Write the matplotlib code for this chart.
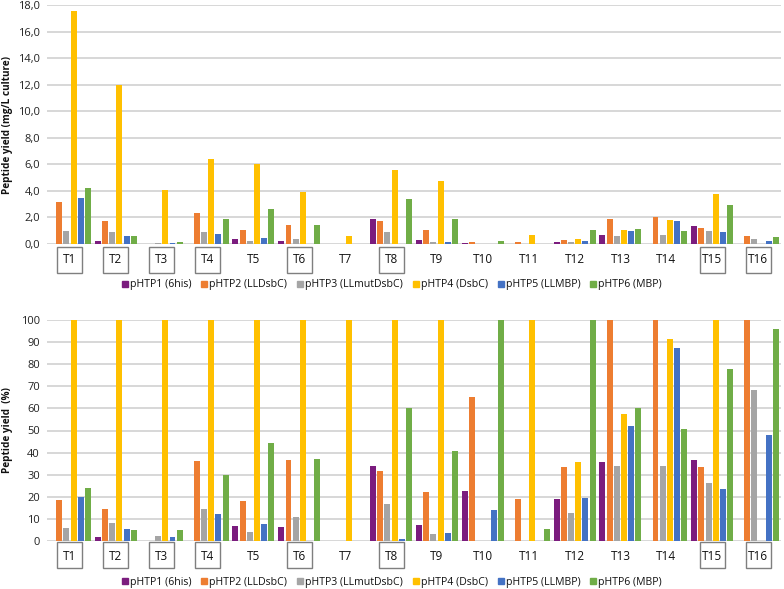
import matplotlib
matplotlib.use("Agg")
import matplotlib.pyplot as plt
import matplotlib.transforms as mtransforms
from matplotlib.patches import Rectangle
from matplotlib.lines import Line2D
import numpy as np

plt.rcParams['font.family'] = ['Open Sans', 'DejaVu Sans']

categories = ["T1", "T2", "T3", "T4", "T5", "T6", "T7", "T8",
              "T9", "T10", "T11", "T12", "T13", "T14", "T15", "T16"]
boxed = ["T1", "T2", "T3", "T4", "T6", "T8", "T15", "T16"]

series_names = ["pHTP1 (6his)", "pHTP2 (LLDsbC)", "pHTP3 (LLmutDsbC)",
                "pHTP4 (DsbC)", "pHTP5 (LLMBP)", "pHTP6 (MBP)"]
colors = ["#7B1C7E", "#ED7D31", "#A5A5A5", "#FFC000", "#4472C4", "#70AD47"]

# mg/L culture
yield_mg = {
    "pHTP1 (6his)":      [0, 0.20, 0, 0, 0.38, 0.23, 0, 1.90, 0.33, 0.08, 0, 0.18, 0.68, 0, 1.37, 0],
    "pHTP2 (LLDsbC)":    [3.20, 1.75, 0, 2.33, 1.06, 1.42, 0, 1.75, 1.04, 0.15, 0.13, 0.33, 1.92, 2.00, 1.24, 0.58],
    "pHTP3 (LLmutDsbC)": [0.99, 0.94, 0.08, 0.91, 0.23, 0.40, 0, 0.91, 0.15, 0, 0, 0.13, 0.63, 0.66, 0.99, 0.38],
    "pHTP4 (DsbC)":      [17.55, 12.0, 4.05, 6.40, 6.05, 3.92, 0.61, 5.60, 4.76, 0, 0.68, 0.35, 1.09, 1.82, 3.77, 0],
    "pHTP5 (LLMBP)":     [3.50, 0.61, 0.08, 0.76, 0.43, 0, 0, 0.02, 0.18, 0.03, 0, 0.20, 0.99, 1.75, 0.89, 0.25],
    "pHTP6 (MBP)":       [4.18, 0.58, 0.18, 1.90, 2.66, 1.44, 0, 3.39, 1.90, 0.23, 0.03, 1.06, 1.14, 0.99, 2.91, 0.56],
}

# relative yield (%)
yield_pct = {
    "pHTP1 (6his)":      [0, 1.7, 0, 0, 6.8, 6.2, 0, 34.1, 7.4, 22.7, 0, 18.9, 35.6, 0, 36.7, 0],
    "pHTP2 (LLDsbC)":    [18.4, 14.7, 0, 36.4, 18.0, 36.6, 0, 31.6, 22.1, 65.1, 19.0, 33.4, 100, 100, 33.5, 100],
    "pHTP3 (LLmutDsbC)": [5.7, 8.0, 2.3, 14.7, 4.2, 11.0, 0, 16.8, 3.0, 0, 0, 12.5, 34.0, 33.8, 26.4, 68.4],
    "pHTP4 (DsbC)":      [100, 100, 100, 100, 100, 100, 100, 100, 100, 0, 100, 35.6, 57.4, 91.4, 100, 0],
    "pHTP5 (LLMBP)":     [19.9, 5.3, 1.7, 12.1, 7.7, 0, 0, 0.8, 3.8, 13.9, 0, 19.3, 52.0, 87.2, 23.7, 47.9],
    "pHTP6 (MBP)":       [23.9, 5.1, 5.1, 30.0, 44.3, 37.3, 0, 60.4, 40.5, 100, 5.6, 100, 60.3, 50.9, 77.8, 95.8],
}

W, H = 784, 589
fig = plt.figure(figsize=(W / 100, H / 100), dpi=100)

def px_axes(left, top, right, bottom):
    return fig.add_axes([left / W, (H - bottom) / H, (right - left) / W, (bottom - top) / H])

ax1 = px_axes(47, 5, 781, 244)
ax2 = px_axes(47, 320, 781, 541)

slot = 0.157
barw = 0.13
x = np.arange(len(categories))


def draw(ax, data, ylim, yticks, ticklabels, ylabel, box_px, label_px, legend_px, axis_top_px, axis_h_px):
    for i, name in enumerate(series_names):
        off = (i - 2.5) * slot
        ax.bar(x + off, data[name], width=barw, color=colors[i], label=name, zorder=3)
    ax.set_xlim(-0.5, len(categories) - 0.5)
    ax.set_ylim(*ylim)
    ax.set_yticks(yticks)
    ax.set_yticklabels(ticklabels, fontsize=8, color="#222222")
    ax.tick_params(axis="y", length=0, pad=5)
    ax.set_xticks([])
    for s in ax.spines.values():
        s.set_visible(False)
    ax.yaxis.grid(True, color="#D4D4D4", linewidth=1.3, zorder=0)
    ax.set_axisbelow(True)
    ax.set_ylabel(ylabel, fontsize=7.2, fontweight="bold", color="#111111")
    ax.yaxis.set_label_coords(-0.046, 0.5)

    trans = mtransforms.blended_transform_factory(ax.transData, ax.transAxes)
    base = axis_top_px + axis_h_px
    y_text = -(label_px - base) / axis_h_px
    for i, c in enumerate(categories):
        ax.text(i, y_text, c, transform=trans, ha="center", va="center",
                fontsize=8.5, color="#111111", clip_on=False)
        if c in boxed:
            bw = 25 / 45.9
            y0 = -(box_px[1] - base) / axis_h_px
            y1 = -(box_px[0] - base) / axis_h_px
            ax.add_patch(Rectangle((i - bw / 2, y0), bw, y1 - y0, transform=trans,
                                   fill=False, edgecolor="#7F7F7F", linewidth=1.0,
                                   clip_on=False))

    handles = [Line2D([], [], marker="s", linestyle="none", markersize=5,
                      markerfacecolor=colors[i], markeredgecolor=colors[i])
               for i in range(len(series_names))]
    leg_y = -(legend_px - base) / axis_h_px
    ax.legend(handles, series_names, loc="center", bbox_to_anchor=(0.469, leg_y),
              ncol=6, frameon=False, fontsize=7.6, handletextpad=0.1,
              columnspacing=0.8, handlelength=0.8, labelcolor="#111111")


draw(ax1, yield_mg, (0, 18), np.arange(0, 18.1, 2),
     [f"{v:.1f}".replace(".", ",") for v in np.arange(0, 18.1, 2)],
     "Peptide yield (mg/L culture)", (247, 273), 259.5, 285, 5, 239)
draw(ax2, yield_pct, (0, 100), np.arange(0, 101, 10),
     [str(v) for v in range(0, 101, 10)],
     "Peptide yield  (%)", (542, 568), 556.5, 582, 320, 221)

fig.savefig("out.png", dpi=100)
